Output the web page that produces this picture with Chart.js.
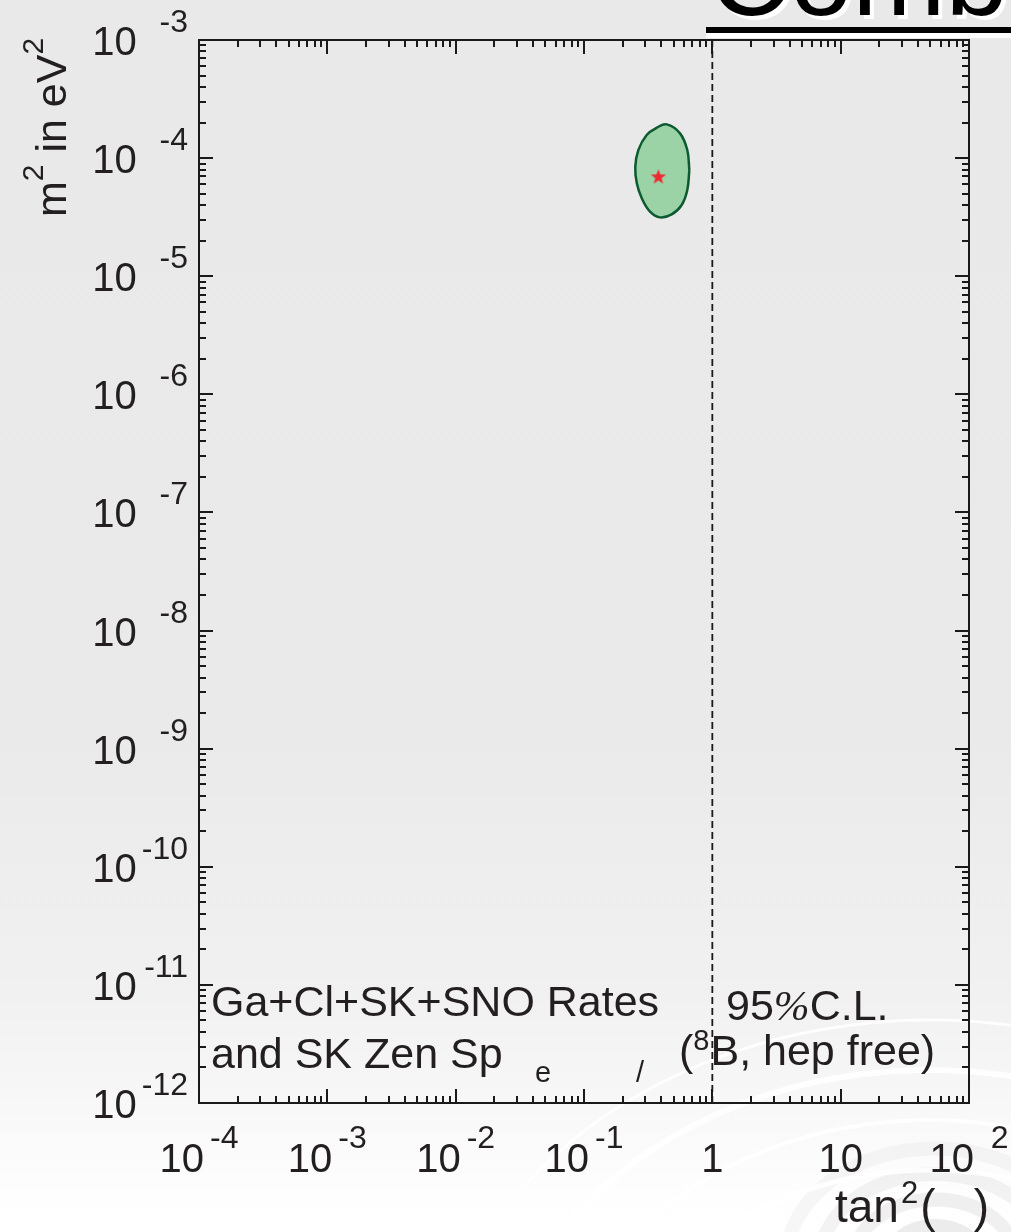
<!DOCTYPE html>
<html>
<head>
<meta charset="utf-8">
<script src="https://cdn.jsdelivr.net/npm/chart.js@4.4.0/dist/chart.umd.min.js"></script>
<style>
  html, body { margin: 0; padding: 0; background: #ffffff; overflow: hidden; }
  #wrap { position: relative; width: 1011px; height: 1232px; }
</style>
</head>
<body>
<div id="wrap"><canvas id="c"></canvas></div>
<script>
// 95% C.L. allowed region (closed contour) in the (tan²θ, Δm²) plane
const contourTan2 = [0.662, 0.638, 0.577, 0.482, 0.391, 0.327, 0.282, 0.258, 0.251, 0.265, 0.308, 0.369, 0.442, 0.560, 0.638, 0.662];
const contourDm2  = [7.93e-5, 5.37e-5, 4.01e-5, 3.34e-5, 3.15e-5, 3.52e-5, 4.57e-5, 6.12e-5, 8.46e-5, 1.17e-4, 1.57e-4, 1.81e-4, 1.93e-4, 1.62e-4, 1.17e-4, 7.93e-5];

// best-fit point
const bestFitTan2 = [0.38];
const bestFitDm2  = [6.9e-5];

// maximal-mixing line tan²θ = 1
const maxMixTan2 = [1, 1];
const maxMixDm2  = [1e-12, 1e-3];

// axis ranges and decade labels ("^" marks the exponent)
const xRange = [1e-4, 100];
const yRange = [1e-12, 1e-3];
const xTickValues = [1e-4, 1e-3, 1e-2, 1e-1, 1, 10, 100];
const xTickLabels = ['10^-4', '10^-3', '10^-2', '10^-1', '1', '10', '10^2'];
const yTickValues = [1e-3, 1e-4, 1e-5, 1e-6, 1e-7, 1e-8, 1e-9, 1e-10, 1e-11, 1e-12];
const yTickLabels = ['10^-3', '10^-4', '10^-5', '10^-6', '10^-7', '10^-8', '10^-9', '10^-10', '10^-11', '10^-12'];

const zip = (xs, ys) => xs.map((x, i) => ({ x: x, y: ys[i] }));

const FONT = '"Liberation Sans", Arial, Helvetica, sans-serif';
const INK = '#231f20';

// filled five-pointed star used as the best-fit marker
function makeStar(r, color) {
  const c = document.createElement('canvas');
  c.width = c.height = 2 * r + 2;
  const g = c.getContext('2d');
  g.translate(r + 1, r + 1);
  g.beginPath();
  for (let i = 0; i < 10; i++) {
    const a = -Math.PI / 2 + i * Math.PI / 5;
    const rr = (i % 2) ? r * 0.42 : r;
    g.lineTo(rr * Math.cos(a), rr * Math.sin(a));
  }
  g.closePath();
  g.fillStyle = color;
  g.fill();
  return c;
}

function logTicks(min, max) {
  const majors = [], minors = [];
  const d0 = Math.round(Math.log10(min)), d1 = Math.round(Math.log10(max));
  for (let d = d0; d <= d1; d++) {
    const b = Math.pow(10, d);
    majors.push(b);
    if (d < d1) for (let k = 2; k < 10; k++) minors.push(k * b);
  }
  return { majors, minors };
}

function drawParts(ctx, parts, x, baseline) {
  let cx = x;
  for (const p of parts) {
    ctx.font = p.font;
    ctx.fillText(p.t, cx, baseline + (p.dy || 0));
    cx += ctx.measureText(p.t).width + (p.gap || 0);
  }
  return cx;
}

// page background, decorative rings and the banner title
const backdrop = {
  id: 'backdrop',
  beforeDraw(chart) {
    const ctx = chart.ctx, W = chart.width, H = chart.height;
    ctx.save();
    const g = ctx.createLinearGradient(0, 0, 0, H);
    g.addColorStop(0.0, '#e9e9e9');
    g.addColorStop(0.6, '#eaeaea');
    g.addColorStop(0.72, '#eeeeee');
    g.addColorStop(0.81, '#f1f1f1');
    g.addColorStop(0.9, '#f8f8f8');
    g.addColorStop(0.97, '#fefefe');
    g.addColorStop(1.0, '#ffffff');
    ctx.fillStyle = g;
    ctx.fillRect(0, 0, W, H);

    // soft grey rings, lower right
    ctx.lineWidth = 14;
    [45, 78, 110, 142].forEach((r, i) => {
      ctx.strokeStyle = 'rgba(205,205,205,' + (0.38 - i * 0.07) + ')';
      ctx.beginPath();
      ctx.ellipse(935, 1262, r * 1.05, r * 0.8, 0, Math.PI, 2 * Math.PI);
      ctx.stroke();
    });
    // white swept arcs
    ctx.strokeStyle = 'rgba(255,255,255,0.85)';
    [[250, 5], [300, 4], [350, 6], [400, 3]].forEach(([r, w]) => {
      ctx.lineWidth = w;
      ctx.beginPath();
      ctx.ellipse(930, 1420, r * 1.25, r, 0, 1.2 * Math.PI, 1.72 * Math.PI);
      ctx.stroke();
    });

    // banner title with white drop shadow and underline
    ctx.font = '112px ' + FONT;
    ctx.textBaseline = 'alphabetic';
    ctx.textAlign = 'left';
    ctx.fillStyle = '#ffffff';
    ctx.fillText('Combined', 713, 19);
    ctx.fillStyle = '#000000';
    ctx.fillText('Combined', 709, 15);
    ctx.fillStyle = '#ffffff';
    ctx.fillRect(706, 33, W - 706, 5);
    ctx.fillStyle = '#000000';
    ctx.fillRect(706, 27, W - 706, 6);
    ctx.restore();
  }
};

// frame, inward log ticks on all sides, axis labels and annotations
const frame = {
  id: 'frame',
  afterDraw(chart) {
    const ctx = chart.ctx;
    const xs = chart.scales.x, ys = chart.scales.y;
    const { left, right, top, bottom } = chart.chartArea;
    ctx.save();
    ctx.strokeStyle = '#1a1a1a';
    ctx.lineWidth = 2;
    ctx.beginPath();
    const xt = logTicks(xRange[0], xRange[1]);
    const yt = logTicks(yRange[0], yRange[1]);
    const tick = (v, len, horiz) => {
      if (horiz) {
        const px = Math.round(xs.getPixelForValue(v));
        ctx.moveTo(px, bottom); ctx.lineTo(px, bottom - len);
        ctx.moveTo(px, top); ctx.lineTo(px, top + len);
      } else {
        const py = Math.round(ys.getPixelForValue(v));
        ctx.moveTo(left, py); ctx.lineTo(left + len, py);
        ctx.moveTo(right, py); ctx.lineTo(right - len, py);
      }
    };
    xt.majors.forEach(v => tick(v, 14, true));
    xt.minors.forEach(v => tick(v, 7, true));
    yt.majors.forEach(v => tick(v, 14, false));
    yt.minors.forEach(v => tick(v, 7, false));
    ctx.stroke();
    ctx.strokeRect(left, top, right - left, bottom - top);

    ctx.fillStyle = INK;
    ctx.textBaseline = 'alphabetic';
    ctx.textAlign = 'left';
    const baseFont = '40px ' + FONT, expFont = '32px ' + FONT;
    const split = s => s.split('^');
    const width = (t, f) => { ctx.font = f; return ctx.measureText(t).width; };

    // x-axis decade labels
    const xField = Math.max(...xTickLabels.map(s => split(s)[1] ? width(split(s)[1], expFont) : 0));
    xTickValues.forEach((v, i) => {
      const [b, e] = split(xTickLabels[i]);
      const px = xs.getPixelForValue(v);
      const wb = width(b, baseFont);
      if (e) {
        const total = wb + 6 + xField;
        const x0 = px - total / 2;
        ctx.font = baseFont; ctx.fillText(b, x0, bottom + 69);
        const we = width(e, expFont);
        ctx.font = expFont; ctx.fillText(e, x0 + total - we, bottom + 45);
      } else {
        ctx.font = baseFont; ctx.fillText(b, px - wb / 2, bottom + 69);
      }
    });

    // y-axis decade labels
    const yField = Math.max(...yTickLabels.map(s => split(s)[1] ? width(split(s)[1], expFont) : 0));
    yTickValues.forEach((v, i) => {
      const [b, e] = split(yTickLabels[i]);
      const py = ys.getPixelForValue(v);
      const expRight = left - 11;
      const we = e ? width(e, expFont) : 0;
      const wb = width(b, baseFont);
      ctx.font = baseFont; ctx.fillText(b, expRight - yField - 5 - wb, py + 15);
      if (e) { ctx.font = expFont; ctx.fillText(e, expRight - we, py - 8); }
    });

    // axis titles
    drawParts(ctx, [
      { t: 'tan', font: '46px ' + FONT, gap: 2 },
      { t: '2', font: '31px ' + FONT, dy: -19, gap: 2 },
      { t: '(   )', font: '46px ' + FONT }
    ], 835, bottom + 119);

    ctx.save();
    ctx.translate(66, 217);
    ctx.rotate(-Math.PI / 2);
    drawParts(ctx, [
      { t: 'm', font: '43px ' + FONT },
      { t: '2', font: '30px ' + FONT, dy: -23 },
      { t: ' in eV', font: '43px ' + FONT },
      { t: '2', font: '30px ' + FONT, dy: -23 }
    ], 0, 0);
    ctx.restore();

    // annotations inside the frame
    const aFont = '43px ' + FONT, smFont = '29px ' + FONT;
    drawParts(ctx, [{ t: 'Ga+Cl+SK+SNO Rates', font: aFont }], 211, 1016);
    drawParts(ctx, [{ t: 'and SK Zen Sp', font: aFont }], 211, 1068);
    drawParts(ctx, [{ t: 'e', font: smFont }], 535, 1082);
    drawParts(ctx, [{ t: '/', font: smFont }], 636, 1082);
    drawParts(ctx, [
      { t: '95', font: aFont },
      { t: '%', font: 'italic 43px "Liberation Serif", serif' },
      { t: 'C.L.', font: aFont }
    ], 726, 1020);
    drawParts(ctx, [
      { t: '(', font: aFont },
      { t: '8', font: smFont, dy: -15, gap: 1 },
      { t: 'B, hep free)', font: aFont }
    ], 679, 1065);
    ctx.restore();
  }
};

new Chart(document.getElementById('c'), {
  type: 'scatter',
  data: {
    datasets: [
      {
        label: 'best fit',
        data: zip(bestFitTan2, bestFitDm2),
        pointStyle: makeStar(8, '#ec2a33'),
        pointRadius: 8,
        showLine: false
      },
      {
        label: '95% C.L.',
        data: zip(contourTan2, contourDm2),
        showLine: true,
        fill: 'shape',
        backgroundColor: '#9cd3a6',
        borderColor: '#0b5a30',
        borderWidth: 2.5,
        tension: 0.4,
        pointRadius: 0
      },
      {
        label: 'tan²θ = 1',
        data: zip(maxMixTan2, maxMixDm2),
        showLine: true,
        borderColor: '#1a1a1a',
        borderWidth: 1.8,
        borderDash: [7, 4],
        pointRadius: 0
      }
    ]
  },
  options: {
    responsive: true,
    maintainAspectRatio: false,
    devicePixelRatio: 1,
    animation: false,
    events: [],
    layout: { padding: { left: 199, right: 42, top: 40, bottom: 129 } },
    scales: {
      x: { type: 'logarithmic', min: xRange[0], max: xRange[1], display: false },
      y: { type: 'logarithmic', min: yRange[0], max: yRange[1], display: false }
    },
    plugins: { legend: { display: false }, tooltip: { enabled: false } }
  },
  plugins: [backdrop, frame]
});
</script>
</body>
</html>
